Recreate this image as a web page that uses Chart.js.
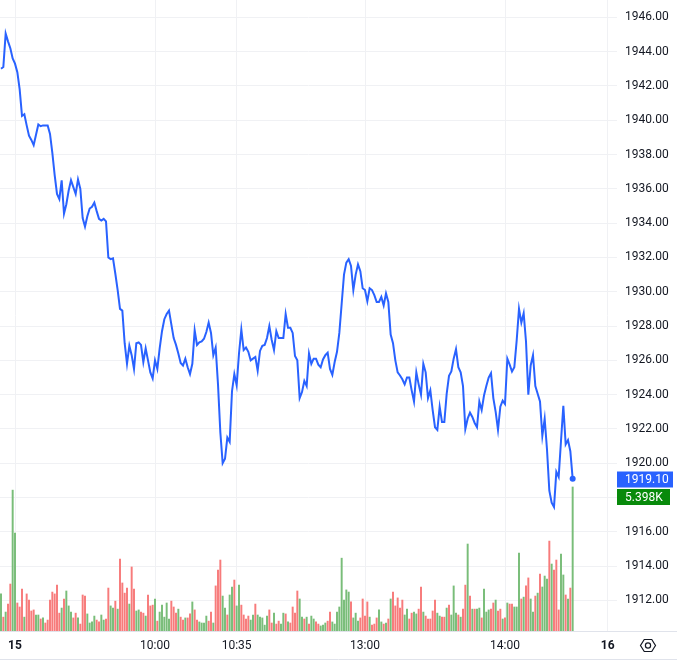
<!DOCTYPE html>
<html>
<head>
<meta charset="utf-8">
<script src="https://cdn.jsdelivr.net/npm/chart.js@4.4.1/dist/chart.umd.min.js"></script>
<style>
    html, body { margin: 0; padding: 0; background: #ffffff; }
    #priceChart { display: block; }
</style>
</head>
<body>
<canvas id="priceChart" width="677" height="661"></canvas>
<script>
// One-minute closes
const closes = [
    1943.0, 1943.1, 1945.05, 1944.6, 1944.2, 1943.6, 1943.3, 1942.8, 1941.8, 1940.25,
    1940.35, 1939.7, 1939.1, 1938.85, 1938.55, 1939.15, 1939.75, 1939.65, 1939.7, 1939.7,
    1939.7, 1939.2, 1938.1, 1936.8, 1935.7, 1935.4, 1936.5, 1934.55, 1935.1, 1935.9,
    1936.5, 1936.1, 1935.7, 1936.55, 1936.0, 1934.3, 1933.8, 1934.4, 1934.85, 1934.95,
    1935.2, 1934.7, 1934.25, 1934.15, 1934.25, 1934.1, 1932.0, 1931.9, 1931.95, 1931.05,
    1930.1, 1929.0, 1928.9, 1927.0, 1925.8, 1926.85, 1926.3, 1925.5, 1927.0, 1927.05,
    1926.9, 1925.9, 1926.7, 1926.0, 1925.3, 1924.95, 1926.0, 1925.5, 1926.7, 1927.7,
    1928.4, 1928.7, 1928.9, 1928.1, 1927.3, 1926.9, 1926.4, 1925.85, 1925.7, 1926.1,
    1925.6, 1925.2, 1925.8, 1927.75, 1926.9, 1927.05, 1927.1, 1927.26, 1927.65, 1928.2,
    1927.6, 1926.3, 1926.75, 1924.6, 1921.8, 1920.0, 1920.26, 1921.5, 1921.25, 1924.2,
    1925.2, 1924.55, 1926.4, 1927.8, 1926.6, 1926.75, 1926.5, 1926.0, 1926.1, 1926.2,
    1925.4, 1926.55, 1926.85, 1926.9, 1927.3, 1928.0, 1927.2, 1926.6, 1927.7, 1927.3,
    1927.3, 1927.3, 1928.7, 1927.9, 1927.9, 1927.6, 1926.25, 1926.0, 1923.8, 1924.15,
    1924.8, 1924.5, 1926.4, 1925.8, 1926.1, 1926.1, 1925.75, 1925.6, 1926.05, 1926.3,
    1926.45, 1925.5, 1925.15, 1925.9, 1926.5, 1927.6, 1929.3, 1931.0, 1931.7, 1931.9,
    1931.5, 1930.1, 1931.0, 1931.6, 1931.2, 1930.2, 1930.1, 1929.45, 1930.2, 1930.1,
    1929.8, 1929.4, 1929.4, 1929.7, 1929.2, 1929.9, 1929.4, 1927.5, 1927.0, 1926.0,
    1925.3, 1925.12, 1924.9, 1924.6, 1925.0, 1925.0, 1924.25, 1923.6, 1925.3, 1924.6,
    1924.0, 1925.8, 1925.3, 1923.8, 1924.25, 1923.1, 1922.1, 1921.95, 1923.3, 1922.4,
    1922.4, 1924.05, 1925.1, 1925.35, 1926.1, 1926.65, 1925.6, 1925.3, 1924.5, 1922.0,
    1922.6, 1922.95, 1922.7, 1922.35, 1922.1, 1923.6, 1923.1, 1923.95, 1924.5, 1925.0,
    1925.25, 1923.8, 1923.0, 1921.95, 1923.3, 1923.65, 1923.45, 1926.1, 1925.75, 1925.35,
    1925.6, 1927.15, 1929.0, 1928.2, 1928.75, 1927.1, 1924.0, 1925.7, 1926.3, 1924.5,
    1924.05, 1923.6, 1921.6, 1922.6, 1920.8, 1918.4, 1917.7, 1917.45, 1919.5, 1919.2,
    1921.3, 1923.35, 1921.1, 1921.35, 1920.7, 1919.10
];

// Volume per minute, in thousands
const volumes = [
    1.39, 0.52, 0.71, 1.01, 1.76, 5.28, 3.67, 1.05, 0.90, 1.57,
    0.52, 1.39, 1.16, 0.75, 0.79, 0.60, 0.60, 0.45, 0.49, 0.30,
    0.41, 1.16, 1.46, 1.39, 1.72, 0.67, 0.86, 1.20, 1.50, 0.94,
    0.71, 0.49, 0.67, 0.49, 0.26, 1.35, 1.31, 0.64, 0.30, 0.34,
    0.56, 0.41, 0.34, 0.60, 0.41, 0.45, 1.61, 0.94, 0.86, 1.12,
    0.82, 2.70, 1.80, 1.42, 1.61, 1.01, 2.40, 1.57, 0.75, 0.79,
    0.71, 0.67, 0.56, 1.35, 0.94, 0.97, 1.20, 0.37, 0.71, 0.97,
    0.52, 1.05, 0.45, 1.12, 0.90, 0.67, 0.82, 0.52, 0.41, 0.49,
    0.49, 0.64, 1.09, 0.79, 0.41, 0.34, 0.30, 0.30, 0.56, 0.37,
    0.71, 0.30, 1.69, 2.28, 2.66, 1.31, 0.86, 0.60, 1.35, 1.65,
    1.91, 0.94, 1.72, 0.97, 0.60, 0.45, 0.56, 0.41, 0.60, 1.01,
    0.60, 0.52, 0.49, 0.22, 0.56, 0.79, 0.30, 0.67, 0.26, 0.37,
    0.26, 0.67, 0.64, 0.34, 0.30, 0.90, 0.67, 1.50, 1.20, 0.52,
    0.45, 0.52, 0.26, 0.56, 0.45, 0.34, 0.26, 0.19, 0.22, 0.30,
    0.37, 0.71, 0.34, 0.26, 0.71, 0.90, 2.73, 1.16, 1.54, 1.46,
    1.09, 0.49, 0.67, 0.37, 0.49, 1.20, 0.56, 1.09, 0.52, 0.22,
    0.26, 0.49, 0.79, 0.34, 0.26, 0.30, 0.45, 1.20, 1.46, 0.94,
    1.24, 0.86, 1.16, 0.60, 0.82, 0.45, 0.67, 0.71, 0.64, 0.82,
    1.65, 0.71, 0.56, 0.45, 0.45, 0.75, 1.16, 0.67, 0.56, 0.52,
    0.52, 0.86, 0.97, 0.60, 1.69, 0.67, 0.60, 0.52, 0.82, 1.72,
    3.26, 1.31, 0.82, 0.82, 0.82, 0.86, 0.49, 1.57, 0.71, 0.79,
    0.82, 1.05, 1.16, 0.75, 0.82, 0.45, 0.49, 1.05, 1.01, 1.01,
    0.90, 0.90, 2.92, 1.20, 1.27, 1.69, 1.99, 1.20, 0.71, 1.31,
    1.42, 2.13, 1.65, 2.06, 1.95, 3.37, 2.51, 2.28, 2.66, 0.79,
    2.88, 2.10, 1.35, 1.20, 1.61, 5.398
];

// Bar direction per minute: G = up, R = down
const volumeSide = (
    'GRGRRGGRRR' + 'GRRRRGGRGR' + 'RRRRRRGRGG' + 'GRRGRRRGGG' + 'GRRGGRRGGR' +
    'GRRRRGRRGG' + 'RRGRRRGRGG' + 'GGGRRRGRRG' + 'RRGRRGGGGR' + 'RGRRRGGRGG' +
    'RGGRRRRGGR' + 'GGGGGRRGRR' + 'GGRGRRRRGG' + 'RGRGGRRGGG' + 'RRGGGGGGGG' +
    'RGGGRRRRGR' + 'RRGGRGRGRR' + 'RRRGGRRGGR' + 'RGRRRRRGGR' + 'RGRGGGRGRR' +
    'GRGRGGRGGG' + 'RRGRRGRGRR' + 'GGGRGRRGGR' + 'GRGGGRGRRR' + 'GGRGRG'
).split('');

// Time axis labels and the bar slot they sit on
const timeTickSlot = [6, 66, 101, 156, 216, 260];
const timeTickLabel = ['15', '10:00', '10:35', '13:00', '14:00', '16'];
const dayLabels = ['15', '16'];

// Price axis ticks
const priceTicks = [1912, 1914, 1916, 1918, 1920, 1922, 1924, 1926, 1928,
    1930, 1932, 1934, 1936, 1938, 1940, 1942, 1944, 1946];

const slots = closes.map((_, i) => i);

const FONT = 'Roboto, "Liberation Sans", Arial, sans-serif';
const TEXT_COLOR = '#131722';
const GRID_COLOR = '#f0f1f4';
const LINE_COLOR = '#2962ff';
const UP_COLOR = '#79bd79';
const DOWN_COLOR = '#f77b7b';

// Draws the last-value tags, frame lines and the settings icon
const overlayPlugin = {
    id: 'overlay',
    afterDraw(chart) {
        const ctx = chart.ctx;
        const area = chart.chartArea;
        const yPrice = chart.scales.y;
        const lastClose = closes[closes.length - 1];
        const lastVol = volumes[volumes.length - 1];
        const yp = Math.round(yPrice.getPixelForValue(lastClose));

        ctx.save();

        // x-axis line and bottom frame line across the whole width
        ctx.strokeStyle = '#e0e3eb';
        ctx.lineWidth = 1;
        ctx.beginPath();
        ctx.moveTo(0, area.bottom + 0.5);
        ctx.lineTo(chart.width, area.bottom + 0.5);
        ctx.moveTo(0, chart.height - 1.5);
        ctx.lineTo(chart.width, chart.height - 1.5);
        ctx.stroke();

        // price tag
        ctx.font = '12px ' + FONT;
        ctx.textBaseline = 'middle';
        ctx.textAlign = 'left';
        ctx.fillStyle = LINE_COLOR;
        ctx.fillRect(area.right, yp - 7.5, 56, 16);
        ctx.fillStyle = '#ffffff';
        ctx.fillText(lastClose.toFixed(2), area.right + 8, yp + 0.5);

        // volume tag
        const vTop = yp + 10;
        ctx.fillStyle = '#088a0b';
        ctx.fillRect(area.right, vTop, 53, 16);
        ctx.fillStyle = '#ffffff';
        ctx.fillText(lastVol.toFixed(3) + 'K', area.right + 8, vTop + 8.5);

        // settings icon (hexagon with a hole)
        const cx = 648, cy = 645.5, r = 7.5;
        ctx.strokeStyle = TEXT_COLOR;
        ctx.lineWidth = 1.2;
        ctx.beginPath();
        for (let k = 0; k < 6; k++) {
            const a = Math.PI / 3 * k;
            const px = cx + r * Math.cos(a);
            const py = cy + r * Math.sin(a) * 0.92;
            if (k === 0) ctx.moveTo(px, py); else ctx.lineTo(px, py);
        }
        ctx.closePath();
        ctx.stroke();
        ctx.beginPath();
        ctx.arc(cx, cy, 2.6, 0, Math.PI * 2);
        ctx.stroke();

        ctx.restore();
    }
};

document.addEventListener('DOMContentLoaded', function() {
    const ctx = document.getElementById('priceChart').getContext('2d');

    new Chart(ctx, {
        type: 'bar',
        data: {
            labels: slots,
            datasets: [
                {
                    type: 'line',
                    label: 'Price',
                    data: closes,
                    yAxisID: 'y',
                    borderColor: LINE_COLOR,
                    backgroundColor: LINE_COLOR,
                    borderWidth: 2,
                    tension: 0,
                    pointRadius: (c) => c.dataIndex === closes.length - 1 ? 3 : 0,
                    pointBorderWidth: 0,
                    pointBackgroundColor: LINE_COLOR,
                    order: 0
                },
                {
                    type: 'bar',
                    label: 'Volume',
                    data: volumes,
                    yAxisID: 'vol',
                    backgroundColor: volumeSide.map(s => s === 'G' ? UP_COLOR : DOWN_COLOR),
                    barThickness: 1.3,
                    order: 1
                }
            ]
        },
        options: {
            responsive: false,
            animation: false,
            events: [],
            layout: { padding: 0, autoPadding: false },
            plugins: {
                legend: { display: false },
                tooltip: { enabled: false }
            },
            scales: {
                x: {
                    type: 'linear',
                    position: 'bottom',
                    min: -0.43,
                    max: 264,
                    offset: false,
                    grid: { color: GRID_COLOR, drawTicks: false, offset: false },
                    border: { display: false },
                    afterBuildTicks: (scale) => {
                        scale.ticks = timeTickSlot.map(v => ({ value: v }));
                    },
                    afterFit: (scale) => {
                        scale.height = 30;
                        scale.paddingLeft = 0;
                        scale.paddingRight = 0;
                    },
                    ticks: {
                        autoSkip: false,
                        maxRotation: 0,
                        padding: 8,
                        color: TEXT_COLOR,
                        font: (c) => ({
                            family: FONT,
                            size: 12,
                            weight: c.tick && dayLabels.includes(c.tick.label) ? 'bold' : 'normal'
                        }),
                        callback: (value) => timeTickLabel[timeTickSlot.indexOf(value)]
                    }
                },
                y: {
                    type: 'linear',
                    position: 'right',
                    min: 1910.22,
                    max: 1947.01,
                    grid: { color: GRID_COLOR, drawTicks: false },
                    border: { display: false },
                    afterBuildTicks: (scale) => {
                        scale.ticks = priceTicks.map(v => ({ value: v }));
                    },
                    afterFit: (scale) => {
                        scale.width = 60;
                        scale.paddingTop = 0;
                        scale.paddingBottom = 0;
                    },
                    ticks: {
                        padding: 8,
                        color: TEXT_COLOR,
                        font: { family: FONT, size: 12 },
                        callback: (value) => value.toFixed(2)
                    }
                },
                vol: {
                    type: 'linear',
                    display: false,
                    min: 0,
                    max: 23.65,
                    grid: { display: false }
                }
            }
        },
        plugins: [overlayPlugin]
    });
});
</script>
</body>
</html>
